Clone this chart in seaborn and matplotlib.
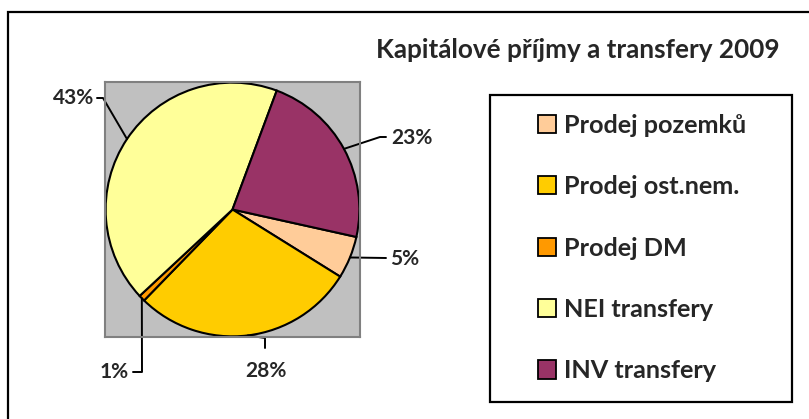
import numpy as np
import matplotlib
matplotlib.use("Agg")
import matplotlib.pyplot as plt
import matplotlib.patches as mpatches
import seaborn as sns

categories = ["Prodej pozemků", "Prodej ost.nem.", "Prodej DM", "NEI transfery", "INV transfery"]
shares = [5.4, 28.4, 0.8, 42.6, 22.8]
colors = ["#FFCC99", "#FFCC00", "#FF9900", "#FFFF99", "#993366"]
title = "Kapitálové příjmy a transfery 2009"

sns.set_style("white")
plt.rcParams["font.family"] = ["Lato", "DejaVu Sans"]

W, H = 809, 419
fig = plt.figure(figsize=(W / 100, H / 100), dpi=100)

def fx(px):
    return px / W

def fy(py):
    return 1 - py / H

# outer chart frame
fig.patches.append(mpatches.Rectangle((fx(8), -0.1), 1.2, fy(12) + 0.1,
                                      transform=fig.transFigure, fill=False,
                                      edgecolor="black", linewidth=1.6))

# pie axes (plot area)
L, T, R, B = 105, 82, 360, 337
ax = fig.add_axes([fx(L), fy(B), fx(R) - fx(L), fy(T) - fy(B)])
ax.set_facecolor("#C0C0C0")
wedges, _ = ax.pie(shares, colors=colors, startangle=-12.5, counterclock=False,
                   radius=0.995, frame=True,
                   wedgeprops=dict(edgecolor="black", linewidth=1.5))
ax.set_xlim(-1, 1)
ax.set_ylim(-1, 1)
ax.set_xticks([])
ax.set_yticks([])
for s in ax.spines.values():
    s.set_color("#808080")
    s.set_linewidth(1.5)

cx, cy, rad = (L + R) / 2, (T + B) / 2, (R - L) / 2

def to_data(px, py):
    return (px - cx) / rad, (cy - py) / rad

# label layout: (text x px, text y px, ha, leader points in px)
layout = [
    (390, 259, "left", [(386, 258)]),
    (266, 371, "center", [(265, 338), (265, 348)]),
    (129, 372, "right", [(142, 372), (133, 372)]),
    (94, 98, "right", [(103, 98), (97, 98)]),
    (391, 138, "left", [(380, 137), (386, 137)]),
]

for w, val, (tx, ty, ha, pts) in zip(wedges, shares, layout):
    mid = np.deg2rad((w.theta1 + w.theta2) / 2)
    ex, ey = 0.995 * np.cos(mid), 0.995 * np.sin(mid)
    xs = [ex] + [to_data(*p)[0] for p in pts]
    ys = [ey] + [to_data(*p)[1] for p in pts]
    ax.plot(xs, ys, color="black", linewidth=1.4, clip_on=False)
    dx, dy = to_data(tx, ty)
    ax.text(dx, dy, f"{round(val):d}%", ha=ha, va="center", fontsize=15,
            fontweight="bold", clip_on=False)

# title
fig.text(fx(780), fy(50), title, ha="right", va="center", fontsize=18.8,
         fontweight="bold")

# legend box
fig.patches.append(mpatches.Rectangle((fx(490), fy(402)), fx(792) - fx(490),
                                      fy(95) - fy(402), transform=fig.transFigure,
                                      fill=False, edgecolor="black", linewidth=1.6))
handles = [mpatches.Patch(facecolor=c, edgecolor="black", linewidth=1.3) for c in colors]
fs = 18.2
fig.legend(handles, categories, loc="center left",
           bbox_to_anchor=(fx(538), fy(248)), frameon=False,
           prop=dict(size=fs, weight="bold"),
           handlelength=0.72, handleheight=0.72, handletextpad=0.3,
           labelspacing=1.52, borderpad=0, borderaxespad=0)

fig.savefig("out.png", dpi=100)
